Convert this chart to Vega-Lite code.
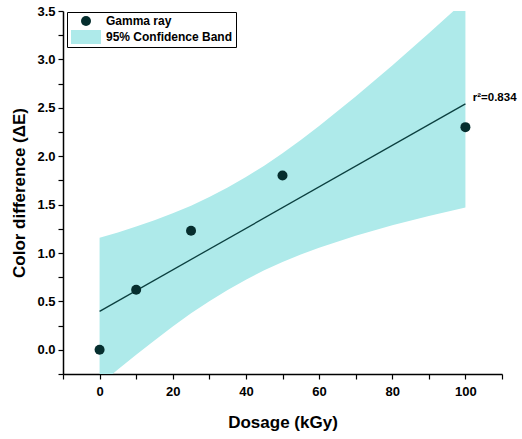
{
  "$schema": "https://vega.github.io/schema/vega-lite/v6.json",
  "width": 439,
  "height": 363,
  "autosize": {"type": "none"},
  "padding": {"left": 63, "top": 11, "right": 20, "bottom": 65},
  "background": "white",
  "config": {
    "view": {"stroke": null},
    "font": "Liberation Sans",
    "axis": {
      "domainColor": "black",
      "domainWidth": 1.5,
      "tickColor": "black",
      "tickWidth": 1.2,
      "tickSize": 5,
      "tickCount": 100,
      "grid": false,
      "labelOverlap": false,
      "labelFont": "Liberation Sans",
      "labelFontWeight": "bold",
      "labelFontSize": 13,
      "labelColor": "black",
      "titleFont": "Liberation Sans",
      "titleFontWeight": "bold",
      "titleFontSize": 17,
      "titleColor": "black"
    },
    "legend": {
      "orient": "none",
      "legendX": 4,
      "legendY": 1,
      "strokeColor": "black",
      "fillColor": "white",
      "padding": 3,
      "rowPadding": 3,
      "symbolSize": 100,
      "symbolOffset": 10,
      "labelOffset": 14,
      "labelFont": "Liberation Sans",
      "labelFontWeight": "bold",
      "labelFontSize": 12,
      "labelColor": "black",
      "symbolStrokeWidth": 0,
      "symbolOpacity": 1
    }
  },
  "datasets": {
    "pts": [
      {"dose": 0, "de": 0.0},
      {"dose": 10, "de": 0.62},
      {"dose": 25, "de": 1.23},
      {"dose": 50, "de": 1.8},
      {"dose": 100, "de": 2.3}
    ],
    "band": [
      {"dose": 0, "lo": -0.363, "hi": 1.157},
      {"dose": 5, "lo": -0.203, "hi": 1.211},
      {"dose": 10, "lo": -0.051, "hi": 1.273},
      {"dose": 15, "lo": 0.097, "hi": 1.339},
      {"dose": 20, "lo": 0.241, "hi": 1.411},
      {"dose": 25, "lo": 0.378, "hi": 1.488},
      {"dose": 30, "lo": 0.502, "hi": 1.578},
      {"dose": 35, "lo": 0.618, "hi": 1.676},
      {"dose": 40, "lo": 0.724, "hi": 1.784},
      {"dose": 45, "lo": 0.821, "hi": 1.901},
      {"dose": 50, "lo": 0.907, "hi": 2.031},
      {"dose": 55, "lo": 0.985, "hi": 2.167},
      {"dose": 60, "lo": 1.055, "hi": 2.311},
      {"dose": 70, "lo": 1.179, "hi": 2.617},
      {"dose": 80, "lo": 1.286, "hi": 2.938},
      {"dose": 90, "lo": 1.381, "hi": 3.271},
      {"dose": 100, "lo": 1.471, "hi": 3.611}
    ],
    "fit": [
      {"dose": 0, "de": 0.397},
      {"dose": 100, "de": 2.541}
    ],
    "ann": [
      {"dose": 102, "de": 2.6, "label": "r²=0.834"}
    ]
  },
  "layer": [
    {
      "data": {"name": "band"},
      "mark": {"type": "area", "clip": true, "opacity": 1},
      "encoding": {
        "x": {
          "field": "dose", "type": "quantitative",
          "scale": {"domain": [-10, 110], "nice": false, "zero": false},
          "axis": {
            "title": "Dosage (kGy)",
            "values": [-10, 0, 10, 20, 30, 40, 50, 60, 70, 80, 90, 100, 110],
            "labelExpr": "datum.value % 20 === 0 ? datum.label : ''",
            "labelPadding": 6,
            "titlePadding": 16
          }
        },
        "y": {
          "field": "lo", "type": "quantitative",
          "scale": {"domain": [-0.25, 3.5], "nice": false, "zero": false},
          "axis": {
            "title": "Color difference (ΔE)",
            "values": [-0.25, 0, 0.25, 0.5, 0.75, 1, 1.25, 1.5, 1.75, 2, 2.25, 2.5, 2.75, 3, 3.25, 3.5],
            "labelExpr": "(datum.value * 2) % 1 === 0 ? format(datum.value, '.1f') : ''",
            "labelPadding": 3,
            "titlePadding": 8
          }
        },
        "y2": {"field": "hi"},
        "color": {
          "datum": "95% Confidence Band",
          "type": "nominal",
          "scale": {"domain": ["Gamma ray", "95% Confidence Band"], "range": ["#062e2e", "#aeeaea"]},
          "legend": {"title": null}
        }
      }
    },
    {
      "data": {"name": "fit"},
      "mark": {"type": "line", "color": "#0b3f3f", "strokeWidth": 1.3},
      "encoding": {
        "x": {"field": "dose", "type": "quantitative"},
        "y": {"field": "de", "type": "quantitative"}
      }
    },
    {
      "data": {"name": "pts"},
      "mark": {"type": "point", "filled": true, "size": 100, "opacity": 1},
      "encoding": {
        "x": {"field": "dose", "type": "quantitative"},
        "y": {"field": "de", "type": "quantitative"},
        "color": {
          "datum": "Gamma ray",
          "type": "nominal",
          "legend": {"title": null}
        },
        "shape": {
          "datum": "Gamma ray",
          "type": "nominal",
          "scale": {"domain": ["Gamma ray", "95% Confidence Band"], "range": ["circle", "M-3,-1.4H3V1.4H-3Z"]},
          "legend": {"title": null}
        }
      }
    },
    {
      "data": {"name": "ann"},
      "mark": {"type": "text", "align": "left", "baseline": "middle", "font": "Liberation Sans", "fontWeight": "bold", "fontSize": 11.5, "color": "black"},
      "encoding": {
        "x": {"field": "dose", "type": "quantitative"},
        "y": {"field": "de", "type": "quantitative"},
        "text": {"field": "label"}
      }
    }
  ]
}
